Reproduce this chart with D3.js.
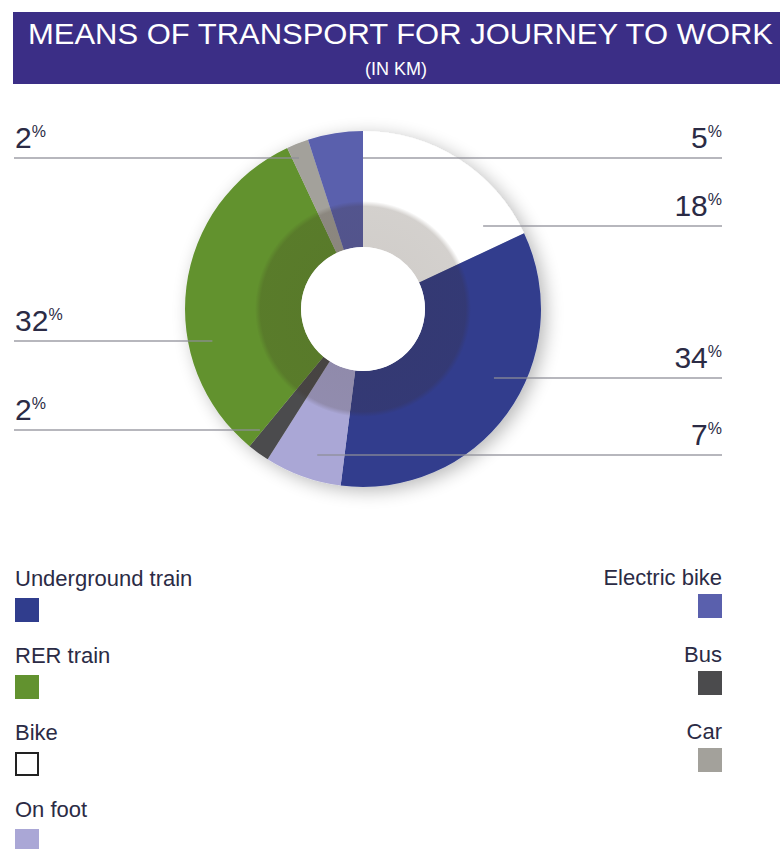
<!DOCTYPE html>
<html>
<head>
<meta charset="utf-8">
<script src="https://cdn.jsdelivr.net/npm/d3@7/dist/d3.min.js"></script>
<style>
  html, body { margin: 0; padding: 0; background: #ffffff; }
  svg { display: block; }
  text { font-family: "Liberation Sans", Arial, Helvetica, sans-serif; }
</style>
</head>
<body>
<svg id="chart" width="780" height="849"></svg>
<script>
// ---- data ----
const title = "MEANS OF TRANSPORT FOR JOURNEY TO WORK";
const subtitle = "(IN KM)";
const categories = ["Underground train", "RER train", "Bike", "On foot", "Electric bike", "Bus", "Car"];
const values = [34, 32, 18, 7, 5, 2, 2];
// clockwise order of slices starting at 12 o'clock
const sliceOrder = ["Bike", "Underground train", "On foot", "Bus", "RER train", "Car", "Electric bike"];
const legendLeft = ["Underground train", "RER train", "Bike", "On foot"];
const legendRight = ["Electric bike", "Bus", "Car"];

// ---- style / layout ----
const colors = {
  "Underground train": "#303d8d",
  "RER train": "#62922f",
  "Bike": "#ffffff",
  "On foot": "#aaa7d6",
  "Electric bike": "#5a60ad",
  "Bus": "#4b4b4d",
  "Car": "#a3a19b"
};
const labelLayout = {
  "Car":               { y: 158, side: "left",  r: 164, dir: -1 },
  "Electric bike":     { y: 158, side: "right", r: 150, dir: 1 },
  "Bike":              { y: 226, side: "right", r: 146, dir: 1 },
  "RER train":         { y: 341, side: "left",  r: 154, dir: -1 },
  "Underground train": { y: 378, side: "right", r: 148, dir: 1 },
  "Bus":               { y: 430, side: "left",  r: 159, dir: -1 },
  "On foot":           { y: 455, side: "right", r: 153, dir: -1 }
};
const cx = 363, cy = 309;
const rOuter = 178, rInner = 62, rShade = 108;
const textColor = "#2b2b45";

const svg = d3.select("#chart");
const defs = svg.append("defs");

// drop shadow
const f = defs.append("filter").attr("id", "shadow")
  .attr("x", "-30%").attr("y", "-30%").attr("width", "160%").attr("height", "160%");
f.append("feGaussianBlur").attr("in", "SourceAlpha").attr("stdDeviation", 9).attr("result", "b");
f.append("feOffset").attr("in", "b").attr("dx", 5).attr("dy", 4).attr("result", "o");
f.append("feComponentTransfer").attr("in", "o").attr("result", "s")
  .append("feFuncA").attr("type", "linear").attr("slope", 0.28);
const fm = f.append("feMerge");
fm.append("feMergeNode").attr("in", "s");
fm.append("feMergeNode").attr("in", "SourceGraphic");

// inner shading gradient (in the donut group's coordinates)
const rg = defs.append("radialGradient").attr("id", "innerShade")
  .attr("gradientUnits", "userSpaceOnUse")
  .attr("cx", 0).attr("cy", 0).attr("r", rShade);
rg.append("stop").attr("offset", "0%").attr("stop-color", "#3a2c1e").attr("stop-opacity", 0.25);
rg.append("stop").attr("offset", "95%").attr("stop-color", "#3a2c1e").attr("stop-opacity", 0.22);
rg.append("stop").attr("offset", "100%").attr("stop-color", "#3a2c1e").attr("stop-opacity", 0);

// ---- title banner ----
svg.append("rect").attr("x", 13).attr("y", 12).attr("width", 767).attr("height", 72)
  .attr("fill", "#3b2e86");
svg.append("text").attr("x", 28).attr("y", 44)
  .attr("font-size", 30).attr("fill", "#ffffff")
  .attr("textLength", 745).attr("lengthAdjust", "spacingAndGlyphs")
  .text(title);
svg.append("text").attr("x", 396).attr("y", 75).attr("text-anchor", "middle")
  .attr("font-size", 18).attr("fill", "#ffffff")
  .text(subtitle);

// ---- donut ----
const valueOf = name => values[categories.indexOf(name)];
const pieData = d3.pie().sort(null).value(d => valueOf(d))(sliceOrder);
const arc = d3.arc().innerRadius(rInner).outerRadius(rOuter);
const g = svg.append("g").attr("transform", `translate(${cx},${cy})`);

const donut = g.append("g").attr("filter", "url(#shadow)");
donut.selectAll("path.slice").data(pieData).join("path")
  .attr("class", "slice")
  .attr("d", arc)
  .attr("fill", d => colors[d.data]);

// inner darker ring (shading)
g.append("path")
  .attr("d", d3.arc().innerRadius(rInner).outerRadius(rShade).startAngle(0).endAngle(2 * Math.PI)())
  .attr("fill", "url(#innerShade)");

g.append("circle").attr("r", rInner).attr("fill", "#ffffff");

// ---- label lines & values ----
const xLeft = 14, xRight = 722;
const labels = svg.append("g");
pieData.forEach(d => {
  const L = labelLayout[d.data];
  const dy = L.y - cy;
  const ax = cx + L.dir * Math.sqrt(Math.max(0, L.r * L.r - dy * dy));
  const x1 = L.side === "left" ? xLeft : ax;
  const x2 = L.side === "left" ? ax : xRight;
  labels.append("line")
    .attr("x1", x1).attr("x2", x2).attr("y1", L.y).attr("y2", L.y)
    .attr("stroke", "#8e8e96").attr("stroke-width", 1.6).attr("stroke-opacity", 0.85);
  const t = labels.append("text")
    .attr("x", L.side === "left" ? 15 : xRight)
    .attr("y", L.y - 10)
    .attr("text-anchor", L.side === "left" ? "start" : "end")
    .attr("fill", textColor);
  t.append("tspan").attr("font-size", 30).text(valueOf(d.data));
  t.append("tspan").attr("font-size", 16).attr("dy", -11).text("%");
});

// ---- legend ----
const sq = 24;
const lg = svg.append("g");
legendLeft.forEach((name, i) => {
  const base = 586 + i * 77;
  lg.append("text").attr("x", 15).attr("y", base)
    .attr("font-size", 22).attr("fill", textColor).text(name);
  lg.append("rect").attr("x", name === "Bike" ? 16 : 15).attr("y", base + (name === "Bike" ? 13 : 12))
    .attr("width", name === "Bike" ? sq - 2 : sq).attr("height", name === "Bike" ? sq - 2 : sq)
    .attr("fill", colors[name])
    .attr("stroke", name === "Bike" ? "#222" : "none").attr("stroke-width", 2);
});
legendRight.forEach((name, i) => {
  const base = 585 + i * 77;
  lg.append("text").attr("x", 722).attr("y", base).attr("text-anchor", "end")
    .attr("font-size", 22).attr("fill", textColor).text(name);
  lg.append("rect").attr("x", 722 - sq).attr("y", base + 9)
    .attr("width", sq).attr("height", sq)
    .attr("fill", colors[name]);
});
</script>
</body>
</html>
